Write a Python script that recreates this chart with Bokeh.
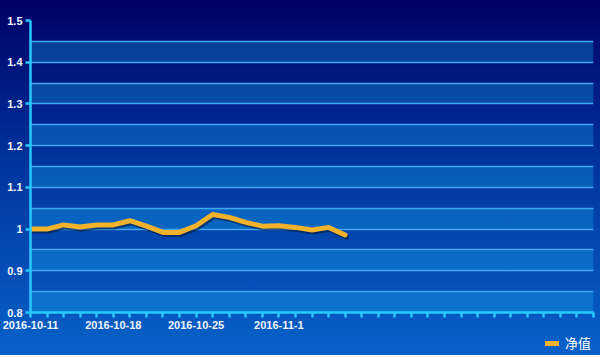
import json
from bokeh.plotting import figure
from bokeh.layouts import column
from bokeh.models import (Range1d, FixedTicker, CustomJSTickFormatter, Legend, LegendItem,
                          ColumnDataSource)
from bokeh.embed import file_html
from bokeh.resources import INLINE

# ---- data ----
dates = ["2016-10-11", "2016-10-12", "2016-10-13", "2016-10-14", "2016-10-17",
         "2016-10-18", "2016-10-19", "2016-10-20", "2016-10-21", "2016-10-24",
         "2016-10-25", "2016-10-26", "2016-10-27", "2016-10-28", "2016-10-31",
         "2016-11-1", "2016-11-2", "2016-11-3", "2016-11-4", "2016-11-7"]
nav = [1.000, 1.000, 1.010, 1.005, 1.010, 1.010, 1.020, 1.007, 0.992, 0.992,
       1.008, 1.035, 1.028, 1.016, 1.007, 1.008, 1.004, 0.998, 1.004, 0.986]
slots = 35  # trading-day slots on the x axis
tick_label_dates = ["2016-10-11", "2016-10-18", "2016-10-25", "2016-11-1"]
y_ticks = [0.8, 0.9, 1.0, 1.1, 1.2, 1.3, 1.4, 1.5]
y_minor = [0.85, 0.95, 1.05, 1.15, 1.25, 1.35, 1.45]
series_name = "净值"

x = list(range(len(nav)))
label_map = {str(dates.index(d)): d for d in tick_label_dates}
LINE_COLOR = "#f2b22c"

p = figure(frame_width=563, frame_height=292, output_backend="svg", toolbar_location=None,
           x_range=Range1d(0, slots - 1), y_range=Range1d(y_ticks[0], y_ticks[-1]),
           min_border_left=30, min_border_right=7, min_border_top=20, min_border_bottom=0)
p.background_fill_color = None
p.border_fill_color = None
p.outline_line_color = None

# alternating bands
band_bottoms = [y_ticks[i] for i in range(len(y_ticks) - 1)]
p.quad(left=0, right=slots - 1, bottom=band_bottoms, top=y_minor,
       fill_color="#20c8ff", fill_alpha=0.26, line_color=None)

# grid
p.xgrid.grid_line_color = None
p.ygrid.grid_line_color = "#4aa2f2"
p.ygrid.grid_line_width = 1.5
p.ygrid.minor_grid_line_color = "#4aa2f2"
p.ygrid.minor_grid_line_width = 1.5

# axes
yt = FixedTicker(ticks=y_ticks, minor_ticks=y_minor)
p.yaxis.ticker = yt
p.ygrid.ticker = yt
p.yaxis.formatter = CustomJSTickFormatter(code="return String(Math.round(tick*100)/100);")
p.xaxis.ticker = FixedTicker(ticks=list(range(slots)))
p.xaxis.formatter = CustomJSTickFormatter(
    code="const L = " + json.dumps(label_map) + "; return L[String(Math.round(tick))] || '';")
for ax in (p.xaxis, p.yaxis):
    ax.axis_line_color = "#28c8ff"
    ax.axis_line_width = 2.5
    ax.major_tick_line_color = "#28c8ff"
    ax.major_tick_line_width = 2.5
    ax.minor_tick_line_color = None
    ax.major_label_text_color = "#f0f4ff"
    ax.major_label_text_font = "Liberation Sans"
    ax.major_label_text_font_style = "bold"
    ax.major_label_text_font_size = "11px"
p.yaxis.major_tick_out = 5
p.yaxis.major_tick_in = 0
p.yaxis.major_label_standoff = 3
p.xaxis.major_tick_out = 5
p.xaxis.major_tick_in = 0
p.xaxis.major_label_standoff = 3

# shadow + line
px_x = (slots - 1) / 563.0
px_y = (y_ticks[-1] - y_ticks[0]) / 292.0
shadow = ColumnDataSource(dict(x=[v + 1.5 * px_x for v in x], y=[v - 2 * px_y for v in nav]))
p.line("x", "y", source=shadow, line_color="#001030", line_alpha=0.55, line_width=5,
       line_join="round", line_cap="round")
p.line(x, nav, line_color=LINE_COLOR, line_width=5, line_join="round", line_cap="round")

# legend strip below the chart (series drawn out of view, only its legend shows)
lf = figure(width=600, height=24, output_backend="svg", toolbar_location=None,
            x_range=Range1d(-10, -9), y_range=Range1d(-10, -9),
            min_border_left=0, min_border_right=0, min_border_top=0, min_border_bottom=0)
lf.axis.visible = False
lf.grid.visible = False
lf.background_fill_color = None
lf.border_fill_color = None
lf.outline_line_color = None
proxy = lf.line(x, nav, line_color=LINE_COLOR, line_width=5, line_cap="round")
legend = Legend(items=[LegendItem(label=series_name, renderers=[proxy])],
                location="top_right", orientation="horizontal",
                background_fill_alpha=0, border_line_alpha=0,
                label_text_color="#ffffff", label_text_font="Noto Sans CJK SC",
                label_text_font_size="13px",
                glyph_width=14, glyph_height=10,
                label_height=14, padding=2, spacing=0, label_standoff=6)
legend.margin = 0
lf.add_layout(legend)

layout = column(p, lf, spacing=0)
layout.styles = {"background": "linear-gradient(to bottom, #000066 0px, #00359e 165px, #0862c8 357px)"}

open("out.html", "w").write(file_html(layout, INLINE))
